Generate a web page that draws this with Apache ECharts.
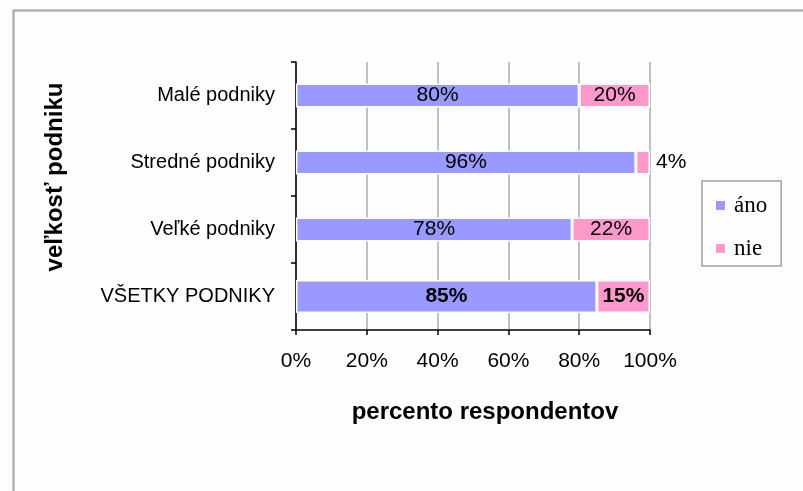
<!DOCTYPE html>
<html>
<head>
<meta charset="utf-8">
<title>veľkosť podniku</title>
<script src="https://cdn.jsdelivr.net/npm/echarts@6/dist/echarts.min.js"></script>
<style>
  html, body { margin: 0; padding: 0; background: #fdfdfd; }
  #chart { width: 803px; height: 491px; }
</style>
</head>
<body>
<div id="chart"></div>
<script>
// data
var categories = ['Malé podniky', 'Stredné podniky', 'Veľké podniky', 'VŠETKY PODNIKY']
var ano = [80, 96, 78, 85]
var nie = [20, 4, 22, 15]
var xTicks = [0, 20, 40, 60, 80, 100]

var FONT = '"Liberation Sans", Arial, sans-serif'
var last = categories.length - 1

// first three rows go on axis 0, the total row (thicker, bold) on axis 1
function rows(arr, total) {
  return arr.map(function(v, i) {
    if ((i === last) !== total) return '-'
    // narrow segment: put its label outside
    if (v < 10) return { value: v, label: { position: 'right', distance: 6 } }
    return v
  })
}

function barSeries(name, values, total, color) {
  return {
    name: name,
    type: 'bar',
    stack: total ? 'all' : 'rows',
    yAxisIndex: total ? 1 : 0,
    barWidth: total ? 33 : 24,
    data: rows(values, total),
    itemStyle: { color: color, borderColor: '#ffffff', borderWidth: 1.5 },
    label: {
      show: true,
      position: 'inside',
      formatter: '{c}%',
      color: '#000',
      fontFamily: FONT,
      fontSize: 21,
      fontWeight: total ? 'bold' : 'normal'
    },
    animation: false
  }
}

var chart = echarts.init(document.getElementById('chart'))
chart.setOption({
  backgroundColor: '#fdfdfd',
  textStyle: { fontFamily: FONT },
  grid: { left: 296, right: 153, top: 62, bottom: 161 },
  legend: {
    orient: 'vertical',
    left: 702,
    top: 181,
    data: ['áno', 'nie'],
    icon: 'rect',
    itemWidth: 11,
    itemHeight: 11,
    itemGap: 20,
    padding: [13, 14, 6, 12],
    borderColor: '#a0a0a0',
    borderWidth: 1.5,
    textStyle: {
      fontFamily: '"Liberation Serif", "Times New Roman", serif',
      fontSize: 23,
      color: '#000',
      padding: [0, 0, 0, 3]
    }
  },
  xAxis: {
    type: 'value',
    min: 0,
    max: 100,
    interval: 20,
    name: 'percento respondentov',
    nameLocation: 'middle',
    nameGap: 70,
    nameTextStyle: { fontSize: 24, fontWeight: 'bold', color: '#000', padding: [0, 0, 0, 24] },
    axisLine: { show: true, lineStyle: { color: '#000', width: 1.5 } },
    axisTick: { show: true, length: 5, lineStyle: { color: '#000', width: 1.5 } },
    axisLabel: { formatter: '{value}%', fontSize: 21, color: '#000', margin: 21 },
    splitLine: { show: true, lineStyle: { color: '#c0c0c0', width: 2 } }
  },
  yAxis: [{
    type: 'category',
    data: categories,
    inverse: true,
    axisLine: { show: true, lineStyle: { color: '#000', width: 1.5 } },
    axisTick: { show: true, length: 5, lineStyle: { color: '#000', width: 1.5 } },
    axisLabel: { fontSize: 20, color: '#000', margin: 21 }
  }, {
    type: 'category',
    data: categories,
    inverse: true,
    show: false
  }],
  series: [
    barSeries('áno', ano, false, '#9999ff'),
    barSeries('nie', nie, false, '#ff99cc'),
    barSeries('áno', ano, true, '#9999ff'),
    barSeries('nie', nie, true, '#ff99cc')
  ],
  graphic: [{
    type: 'rect',
    left: 11,
    top: 8,
    shape: { width: 900, height: 600 },
    style: { fill: 'none', stroke: '#b4b4b4', lineWidth: 2.5 },
    silent: true
  }, {
    type: 'text',
    x: 55,
    y: 177,
    rotation: Math.PI / 2,
    style: {
      text: 'veľkosť podniku',
      fontFamily: FONT,
      fontSize: 24,
      fontWeight: 'bold',
      fill: '#000',
      align: 'center',
      verticalAlign: 'middle'
    }
  }]
})
</script>
</body>
</html>
